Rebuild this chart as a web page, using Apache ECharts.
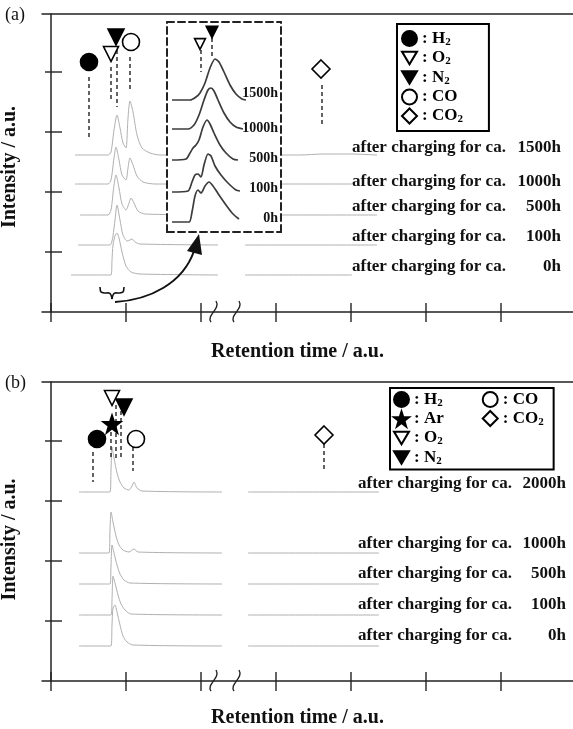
<!DOCTYPE html>
<html>
<head>
<meta charset="utf-8">
<title>Gas chromatograms</title>
<script src="https://cdn.jsdelivr.net/npm/echarts@6/dist/echarts.min.js"></script>
<style>
  html, body { margin: 0; padding: 0; background: #fff; }
  #chart { width: 573px; height: 729px; }
</style>
</head>
<body>
<div id="chart"></div>
<script>
// all values in a.u. (retention time, intensity)
const xTicks = [0, 75, 150, 225, 300, 375, 450];
const yTicks = [60, 120, 180, 240];
const breakMarks = [162, 185];

const hoursA = ['1500h', '1000h', '500h', '100h', '0h'];
const hoursB = ['2000h', '1000h', '500h', '100h', '0h'];

// (a) traces, null = axis break
const a1500 = [[24,157],[57,157],[60,160],[63,182],[66,197],[69,184],[72,169],[75,164],[77,194],[79,211],[82,200],[86,177],[91,164],[99,159],[109,157],[167,157], null, [194,157],[249,157],[272,158],[299,158],[326,157]];
const a1000 = [[24,128],[57,128],[60,132],[63,154],[65,165],[68,152],[71,137],[75,132],[77,144],[79,154],[82,147],[86,136],[92,130],[104,128],[167,128], null, [194,128],[301,128]];
const a500 = [[29,97],[57,97],[60,102],[63,127],[65,137],[68,124],[71,108],[75,102],[78,109],[80,114],[83,109],[87,101],[94,98],[167,97], null, [194,97],[326,97]];
const a100 = [[27,67],[59,67],[61,71],[62,76],[64,92],[66,107],[69,92],[72,77],[76,71],[79,72],[81,73],[84,70],[89,68],[167,67], null, [194,67],[326,67]];
const a0 = [[20,37],[60,37],[61,52],[62,67],[64,76],[66,79],[68,74],[71,60],[75,46],[80,40],[89,38],[167,37], null, [194,37],[301,37]];

// (b) traces
const b2000 = [[28,189],[59,189],[60,211],[61,234],[63,223],[66,208],[69,199],[73,193],[78,191],[81,195],[83,199],[86,193],[91,190],[171,189], null, [197,189],[328,189]];
const b1000 = [[28,128],[58,128],[59,151],[60,169],[62,159],[65,145],[68,136],[72,131],[78,129],[83,132],[87,129],[171,128], null, [197,128],[328,128]];
const b500 = [[28,97],[59,97],[60,116],[61,136],[63,128],[66,116],[69,107],[73,101],[79,98],[171,97], null, [197,97],[328,97]];
const b100 = [[28,66],[60,66],[61,81],[62,105],[64,98],[67,86],[70,77],[74,71],[80,67],[171,66], null, [197,66],[328,66]];
const b0 = [[28,35],[60,35],[61,56],[62,73],[64,76],[66,69],[69,56],[72,45],[76,39],[82,36],[171,35], null, [197,35],[328,35]];

// inset (zoom of the O2/N2 peak in (a))
const i1500 = [[5,132],[23,132],[29,135],[33,139],[38,149],[43,164],[48,173],[52,170],[57,160],[63,147],[69,138],[75,133],[79,132]];
const i1000 = [[5,103],[21,103],[27,107],[32,117],[37,132],[41,142],[44,144],[47,141],[51,132],[57,119],[63,110],[69,105],[76,103]];
const i500 = [[5,72],[19,73],[23,79],[26,84],[29,87],[32,92],[36,105],[40,112],[43,108],[47,99],[53,87],[59,79],[66,73],[71,72]];
const i100 = [[5,40],[21,41],[25,50],[28,57],[31,58],[34,55],[37,67],[41,78],[44,76],[48,66],[54,57],[61,49],[69,42],[73,41]];
const i0 = [[5,10],[22,10],[25,20],[28,36],[31,42],[34,39],[38,46],[42,50],[46,46],[52,37],[59,27],[66,18],[72,13]];

// peak markers: [x, y] and dashed drop lines [x, yTop, yBottom]
const markNamesA = ['H2', 'O2', 'N2', 'CO', 'CO2'];
const markPosA = [[38,250],[60,258],[65,275],[80,270],[270,243]];
const dropA = [[38,235,172],[60,245,210],[66,262,205],[79,255,220],[271,227,185]];
const markNamesB = ['H2', 'Ar', 'O2', 'N2', 'CO', 'CO2'];
const markPosB = [[46,242],[61,257],[61,283],[73,274],[85,242],[273,246]];
const dropB = [[42,229,199],[60,249,224],[65,276,221],[70,270,221],[82,234,210],[273,237,211]];
const markNamesI = ['O2', 'N2'];
const markPosI = [[33,188],[45,200]];
const dropI = [[34,182,160],[45,194,174]];

const SERIF = '"Liberation Serif", "Times New Roman", serif';
const TRI = 'path://M0,0L20,0L10,17Z';
const STAR = 'path://M10,0L12.35,7.24L19.51,7.24L13.75,11.76L15.88,19.02L10,14.5L4.12,19.02L6.25,11.76L0.49,7.24L7.65,7.24Z';
const DIAMOND = 'path://M10,0L20,10L10,20L0,10Z';
const speciesStyle = {
  H2: { symbol: 'circle', fill: '#000', size: 17 },
  Ar: { symbol: STAR, fill: '#000', size: 18 },
  O2: { symbol: TRI, fill: '#fff', size: 15 },
  N2: { symbol: TRI, fill: '#000', size: 16 },
  CO: { symbol: 'circle', fill: '#fff', size: 17 },
  CO2: { symbol: DIAMOND, fill: '#fff', size: 18 },
};
const legendText = { H2: ['H', '2'], Ar: ['Ar', ''], O2: ['O', '2'], N2: ['N', '2'], CO: ['CO', ''], CO2: ['CO', '2'] };

const chart = echarts.init(document.getElementById('chart'));

const gap = (d) => d.map((p) => (p === null ? [null, null] : p));

function trace(data, xi, yi, inset) {
  return {
    type: 'line', xAxisIndex: xi, yAxisIndex: yi, data: gap(data),
    showSymbol: false, silent: true, smooth: 0.25, connectNulls: false,
    z: inset ? 7 : 2,
    lineStyle: inset ? { color: '#3c3c3c', width: 1.7 } : { color: '#b0b0b0', width: 1 },
  };
}

function markers(names, pos, xi, yi, scale, z) {
  return names.map((n, k) => ({
    type: 'scatter', name: n, xAxisIndex: xi, yAxisIndex: yi, data: [pos[k]],
    symbol: speciesStyle[n].symbol, symbolSize: speciesStyle[n].size * scale,
    itemStyle: { color: speciesStyle[n].fill, borderColor: '#000', borderWidth: 1.6, opacity: 1 },
    silent: true, z: z,
  }));
}

function drops(data, xi, yi, z) {
  return {
    type: 'custom', xAxisIndex: xi, yAxisIndex: yi, data: data, silent: true, z: z,
    renderItem: (params, api) => {
      const p = api.coord([api.value(0), api.value(1)]);
      const q = api.coord([api.value(0), api.value(2)]);
      return { type: 'line', shape: { x1: p[0], y1: p[1], x2: q[0], y2: q[1] },
        style: { stroke: '#222', lineWidth: 1.4, lineDash: [4, 3] } };
    },
  };
}

// ticks that cross the axis lines, plus the break marks
function axisDecor(xi, yi) {
  const st = { stroke: '#222', lineWidth: 1.4 };
  return [
    { type: 'custom', xAxisIndex: xi, yAxisIndex: yi, silent: true, z: 4,
      data: xTicks.map((v) => [v, 0]),
      renderItem: (params, api) => {
        const p = api.coord([api.value(0), api.value(1)]);
        return { type: 'line', shape: { x1: p[0], y1: p[1] - 9, x2: p[0], y2: p[1] + 10 }, style: st };
      } },
    { type: 'custom', xAxisIndex: xi, yAxisIndex: yi, silent: true, z: 4,
      data: yTicks.map((v) => [0, v]),
      renderItem: (params, api) => {
        const p = api.coord([api.value(0), api.value(1)]);
        return { type: 'line', shape: { x1: p[0] - 6, y1: p[1], x2: p[0] + 11, y2: p[1] }, style: st };
      } },
    { type: 'custom', xAxisIndex: xi, yAxisIndex: yi, silent: true, z: 4,
      data: breakMarks.map((v) => [v, 0]),
      renderItem: (params, api) => {
        const p = api.coord([api.value(0), api.value(1)]);
        return { type: 'bezierCurve',
          shape: { x1: p[0] + 3, y1: p[1] - 11, cpx1: p[0] + 8, cpy1: p[1] - 3, cpx2: p[0] - 7, cpy2: p[1] + 3, x2: p[0] - 2, y2: p[1] + 10 },
          style: { stroke: '#222', lineWidth: 1.4, fill: 'none' } };
      } },
  ];
}

const axisLine = { show: true, onZero: false, lineStyle: { color: '#222', width: 1.5 } };
const bare = { axisTick: { show: false }, axisLabel: { show: false }, splitLine: { show: false } };
const insetLine = { show: true, onZero: false, lineStyle: { color: '#222', width: 2, type: [7, 4] } };
const nameStyle = { fontFamily: SERIF, fontWeight: 'bold', fontSize: 20, color: '#111' };

function bottomX(grid) {
  return Object.assign({ type: 'value', gridIndex: grid, min: -9, max: 522, position: 'bottom',
    axisLine: axisLine, name: 'Retention time / a.u.', nameLocation: 'middle',
    nameGap: grid === 0 ? 30 : 27, nameTextStyle: Object.assign({ padding: [0, 20, 0, 0] }, nameStyle) }, bare);
}
function topX(grid) {
  return Object.assign({ type: 'value', gridIndex: grid, min: -9, max: 522, position: 'top', axisLine: axisLine }, bare);
}
function leftY(grid, max, pad) {
  return Object.assign({ type: 'value', gridIndex: grid, min: 0, max: max, axisLine: { show: true, onZero: true, lineStyle: { color: '#222', width: 1.5 } },
    name: 'Intensity / a.u.', nameLocation: 'middle', nameGap: 22,
    nameTextStyle: Object.assign({ padding: [0, pad, 0, 0] }, nameStyle) }, bare);
}

function legendFmt(name) {
  const t = legendText[name];
  return t[1] ? '{t|: ' + t[0] + '}{s|' + t[1] + '}' : '{t|: ' + t[0] + '}';
}
// second legend: first column padded so the CO / CO2 column sits further right
const firstColB = ['H2', 'Ar', 'O2', 'N2'];
function legendFmtB(name) {
  return legendFmt(name) + (firstColB.indexOf(name) >= 0 ? '{g| }' : '');
}
const legendTextStyle = {
  color: '#000',
  rich: {
    t: { fontFamily: SERIF, fontWeight: 'bold', fontSize: 17, lineHeight: 18, color: '#000' },
    s: { fontFamily: SERIF, fontWeight: 'bold', fontSize: 11, lineHeight: 12, verticalAlign: 'bottom', color: '#000' },
    g: { width: 36, fontSize: 10, lineHeight: 12 },
  },
};

function txt(x, y, text, size, align, weight) {
  return { type: 'text', x: x, y: y, z: 20, silent: true,
    style: { text: text, fontSize: size, fontWeight: weight || 'bold', fontFamily: SERIF, fill: '#111',
      align: align || 'left', verticalAlign: 'middle', textAlign: align || 'left', textVerticalAlign: 'middle' } };
}

const rowsA = [148, 182, 207, 237, 267];
const rowsB = [484, 544, 574, 605, 636];
const rowsI = [93, 128, 158, 188, 218];
const annotations = [txt(5, 15, '(a)', 18, 'left', 'normal'), txt(5, 383, '(b)', 18, 'left', 'normal')];
hoursA.forEach((h, k) => {
  annotations.push(txt(352, rowsA[k], 'after charging for ca.', 17));
  annotations.push(txt(561, rowsA[k], h, 17, 'right'));
  annotations.push(txt(278, rowsI[k], h, 14, 'right'));
});
hoursB.forEach((h, k) => {
  annotations.push(txt(358, rowsB[k], 'after charging for ca.', 17));
  annotations.push(txt(566, rowsB[k], h, 17, 'right'));
});
// brace under the O2/N2 peaks and the arrow to the inset
annotations.push(
  { type: 'polyline', z: 20, silent: true, shape: { points: [[100, 287], [101, 292], [105, 293], [109, 293], [111, 295], [112, 299]], smooth: 0.3 }, style: { stroke: '#111', lineWidth: 1.6, fill: 'none' } },
  { type: 'polyline', z: 20, silent: true, shape: { points: [[124, 287], [123, 292], [119, 293], [115, 293], [113, 295], [112, 299]], smooth: 0.3 }, style: { stroke: '#111', lineWidth: 1.6, fill: 'none' } },
  { type: 'bezierCurve', z: 20, silent: true, shape: { x1: 115, y1: 302, cpx1: 150, cpy1: 300, cpx2: 183, cpy2: 283, x2: 194, y2: 251 }, style: { stroke: '#111', lineWidth: 2, fill: 'none' } },
  { type: 'polygon', z: 20, silent: true, shape: { points: [[199, 234], [187, 251], [202, 255]] }, style: { fill: '#111' } }
);

const series = [].concat(
  [a1500, a1000, a500, a100, a0].map((d) => trace(d, 0, 0, false)),
  [b2000, b1000, b500, b100, b0].map((d) => trace(d, 2, 1, false)),
  [i1500, i1000, i500, i100, i0].map((d) => trace(d, 4, 2, true)),
  axisDecor(0, 0), axisDecor(2, 1),
  drops(dropA, 0, 0, 4), drops(dropB, 2, 1, 4), drops(dropI, 4, 2, 8),
  markers(markNamesA, markPosA, 0, 0, 1, 5),
  markers(markNamesB, markPosB, 2, 1, 1, 5),
  markers(markNamesI, markPosI, 4, 2, 0.72, 8).map((s) => Object.assign(s, { name: s.name + ' inset' }))
);

const option = {
  animation: false,
  backgroundColor: '#fff',
  grid: [
    { left: 42, top: 14, width: 531, height: 298, outerBoundsMode: 'none' },
    { left: 42, top: 382, width: 531, height: 299, outerBoundsMode: 'none' },
    { left: 167, top: 22, width: 114, height: 210, show: true, backgroundColor: '#fff', borderWidth: 0, z: 5, outerBoundsMode: 'none' },
  ],
  xAxis: [
    bottomX(0), topX(0), bottomX(1), topX(1),
    Object.assign({ type: 'value', gridIndex: 2, min: 0, max: 114, position: 'bottom', axisLine: insetLine, z: 6 }, bare),
    Object.assign({ type: 'value', gridIndex: 2, min: 0, max: 114, position: 'top', axisLine: insetLine, z: 6 }, bare),
  ],
  yAxis: [
    leftY(0, 298, 8), leftY(1, 299, 16),
    Object.assign({ type: 'value', gridIndex: 2, min: 0, max: 210, position: 'left', axisLine: insetLine, z: 6 }, bare),
    Object.assign({ type: 'value', gridIndex: 2, min: 0, max: 210, position: 'right', axisLine: insetLine, z: 6 }, bare),
  ],
  legend: [
    { orient: 'vertical', left: 397, top: 24, padding: [6, 26, 6, 4], itemGap: 2, itemWidth: 15, itemHeight: 15,
      borderColor: '#000', borderWidth: 2, selectedMode: false, data: markNamesA,
      formatter: legendFmt, textStyle: legendTextStyle },
    { orient: 'vertical', left: 390, top: 388, height: 84, padding: [3, 10, 3, 3], itemGap: 2, itemWidth: 15, itemHeight: 15,
      borderColor: '#000', borderWidth: 2, selectedMode: false,
      data: ['H2', 'Ar', 'O2', 'N2', 'CO', 'CO2'],
      formatter: legendFmtB, textStyle: legendTextStyle },
  ],
  graphic: { elements: annotations },
  series: series,
};

chart.setOption(option);
</script>
</body>
</html>
